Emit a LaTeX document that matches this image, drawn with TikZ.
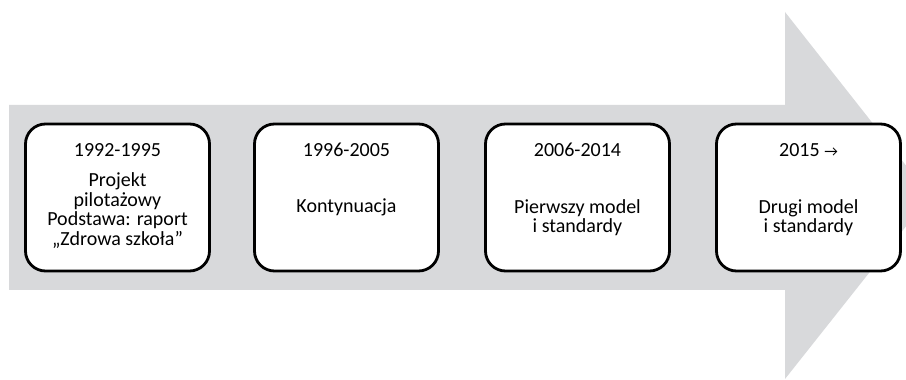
\documentclass[tikz,border=0pt]{standalone}
\usepackage{fontspec}
\setmainfont{Carlito}
\usepackage{xcolor}
\usetikzlibrary{positioning,arrows.meta}
\definecolor{arrowgray}{RGB}{216,217,219}

\tikzset{
  period/.style={draw=black, line width=2.8pt, rounded corners=20pt, fill=white,
    minimum width=184pt, minimum height=147pt, inner sep=0pt},
  yeartext/.style={inner sep=0pt, font=\fontsize{20}{19.5}\selectfont},
  desctext/.style={inner sep=0pt, align=center, font=\fontsize{20}{19.5}\selectfont}
}

\begin{document}
\begin{tikzpicture}[x=1pt,y=1pt]
    \useasboundingbox (0,0) rectangle (906,380);
    \clip (0,0) rectangle (906,380);
    % big arrow behind the boxes
    \fill[arrowgray] (9,90) -- (9,275) -- (785,275) -- (785,368) -- (930,184) -- (785,1) -- (785,90) -- cycle;
    % periods
    \foreach \i/\x/\yr/\txt/\dy in {1/117.5/1992-1995/{Projekt\\pilotażowy\\Podstawa: raport\\„Zdrowa szkoła”}/-13,
                                    2/346.5/1996-2005/{Kontynuacja}/-9.5,
                                    3/577.5/2006-2014/{Pierwszy model\\i standardy}/-20,
                                    4/808.5/{2015 {\fontsize{15}{15}\selectfont →}}/{Drugi model\\i standardy}/-20}{
        \node[period] (b\i) at (\x,182.5) {};
        \node[yeartext] (y\i) at (b\i.north) [yshift=-27pt] {\yr};
        \node[desctext] (d\i) at (b\i.center) [yshift=\dy pt] {\txt};
    }
\end{tikzpicture}
\end{document}
